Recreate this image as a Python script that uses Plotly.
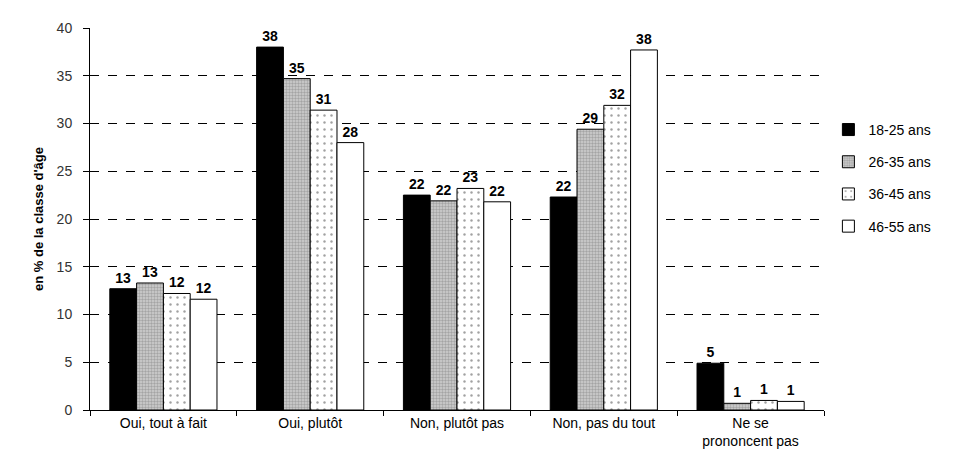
import plotly.graph_objects as go

categories = ["Oui, tout à fait", "Oui, plutôt", "Non, plutôt pas", "Non, pas du tout", "Ne se<br>prononcent pas"]
series_names = ["18-25 ans", "26-35 ans", "36-45 ans", "46-55 ans"]
v_18_25 = [12.7, 38.0, 22.5, 22.3, 4.9]
v_26_35 = [13.3, 34.7, 21.9, 29.4, 0.7]
v_36_45 = [12.2, 31.4, 23.2, 31.9, 1.0]
v_46_55 = [11.6, 28.0, 21.8, 37.7, 0.9]
labels_18_25 = ["13", "38", "22", "22", "5"]
labels_26_35 = ["13", "35", "22", "29", "1"]
labels_36_45 = ["12", "31", "23", "32", "1"]
labels_46_55 = ["12", "28", "22", "38", "1"]
y_ticks = [0, 5, 10, 15, 20, 25, 30, 35, 40]

values = [v_18_25, v_26_35, v_36_45, v_46_55]
labels = [labels_18_25, labels_26_35, labels_36_45, labels_46_55]
styles = [
    dict(color="black", pattern=None),
    dict(color="#c0c0c0", pattern=dict(shape=".", fgcolor="#7a7a7a", bgcolor="#cfcfcf", size=3, solidity=0.5)),
    dict(color="white", pattern=dict(shape=".", fgcolor="#444444", bgcolor="white", size=7, solidity=0.1)),
    dict(color="white", pattern=None),
]

fig = go.Figure()
for i, (name, vals, labs, st) in enumerate(zip(series_names, values, labels, styles)):
    marker = dict(color=st["color"], line=dict(color="black", width=1))
    if st["pattern"]:
        marker["pattern"] = st["pattern"]
    fig.add_trace(go.Bar(
        x=categories, y=vals, name=name, marker=marker, legendgroup=f"g{i}",
        text=labs, textposition="outside", cliponaxis=False,
        textfont=dict(family="Liberation Sans, Arial", size=14, color="black", weight="bold"),
    ))

fig.update_layout(
    width=940, height=456,
    margin=dict(l=82, r=116, t=13, b=54),
    paper_bgcolor="white", plot_bgcolor="white",
    barmode="group", bargap=0.27, bargroupgap=0,
    font=dict(family="Liberation Sans, Arial", size=14, color="black"),
    legend=dict(x=1.006, y=0.775, xanchor="left", yanchor="top",
                font=dict(size=14, color="black"), tracegroupgap=11,
                itemwidth=30, bgcolor="rgba(0,0,0,0)"),
    showlegend=True,
)
fig.update_xaxes(
    showline=True, linecolor="black", linewidth=1,
    ticks="outside", tickson="boundaries", ticklen=5, tickcolor="black",
    tickfont=dict(size=14, color="black"),
)
fig.update_yaxes(
    range=[0, 40], tickvals=y_ticks,
    showline=True, linecolor="black", linewidth=1,
    ticks="outside", ticklen=6, tickcolor="black",
    ticklabelstandoff=8,
    showgrid=True, gridcolor="black", griddash="dash", gridwidth=1,
    zeroline=False,
    tickfont=dict(size=14, color="#333333"),
    title=dict(text="<b>en % de la classe d'âge</b>", font=dict(size=13, color="black"), standoff=10),
)
fig.write_html("out.html")
